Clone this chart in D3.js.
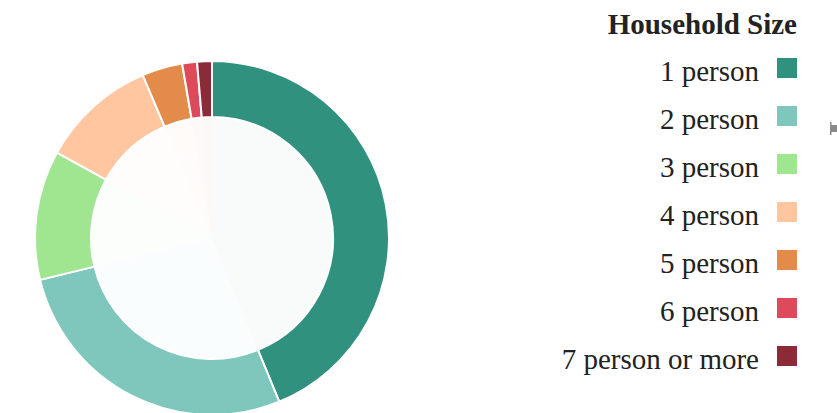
<!DOCTYPE html>
<html>
<head>
<meta charset="utf-8">
<script src="https://cdn.jsdelivr.net/npm/d3@7"></script>
<style>
  html, body { margin: 0; padding: 0; background: #fff; }
  svg { display: block; }
  text { font-family: "Liberation Serif", "Times New Roman", serif; fill: #222; }
</style>
</head>
<body>
<svg id="chart" width="837" height="413"></svg>
<script>
// Household size distribution (share of households, %)
const categories = ["1 person", "2 person", "3 person", "4 person", "5 person", "6 person", "7 person or more"];
const shares = [43.8, 27.4, 11.8, 10.6, 3.7, 1.35, 1.35];
const colors = ["#30917f", "#7fc7bc", "#a0e691", "#ffc6a0", "#e38b4b", "#dd4a5a", "#8c2b38"];
const legendTitle = "Household Size";

const svg = d3.select("#chart");
const width = 837, height = 413;

const cx = 212, cy = 238;
const outerR = 177, innerR = 121;

const color = d3.scaleOrdinal().domain(categories).range(colors);

const data = categories.map((c, i) => ({ category: c, value: shares[i] }));

const pie = d3.pie().sort(null).value(d => d.value);
const arcs = pie(data);

const g = svg.append("g").attr("transform", `translate(${cx},${cy})`);

// faint inner pie, same angles, very low opacity
const innerArc = d3.arc().innerRadius(0).outerRadius(innerR);
g.append("g").selectAll("path")
  .data(arcs)
  .join("path")
  .attr("d", innerArc)
  .attr("fill", d => color(d.data.category))
  .attr("fill-opacity", 0.035);

// donut ring
const ringArc = d3.arc().innerRadius(innerR).outerRadius(outerR);
g.append("g").selectAll("path")
  .data(arcs)
  .join("path")
  .attr("d", ringArc)
  .attr("fill", d => color(d.data.category))
  .attr("stroke", "#fff")
  .attr("stroke-width", 2);

// legend
const legendRight = 797;
const sw = 20;
const rowY = d3.scalePoint().domain(categories).range([58, 346]);

svg.append("text")
  .attr("x", legendRight)
  .attr("y", 34)
  .attr("text-anchor", "end")
  .attr("font-size", 29)
  .attr("font-weight", "bold")
  .text(legendTitle);

const rows = svg.append("g").selectAll("g")
  .data(categories)
  .join("g")
  .attr("transform", d => `translate(0,${rowY(d)})`);

rows.append("rect")
  .attr("x", legendRight - sw)
  .attr("y", 0)
  .attr("width", sw)
  .attr("height", sw)
  .attr("fill", d => color(d));

rows.append("text")
  .attr("x", 759)
  .attr("y", 23)
  .attr("text-anchor", "end")
  .attr("font-size", 29)
  .text(d => d);

// small gray handle at the right edge
const handle = svg.append("g").attr("fill", "#8a8a8a");
handle.append("rect").attr("x", 830).attr("y", 122).attr("width", 1.5).attr("height", 13);
handle.append("rect").attr("x", 831).attr("y", 125).attr("width", 6).attr("height", 7);
</script>
</body>
</html>
